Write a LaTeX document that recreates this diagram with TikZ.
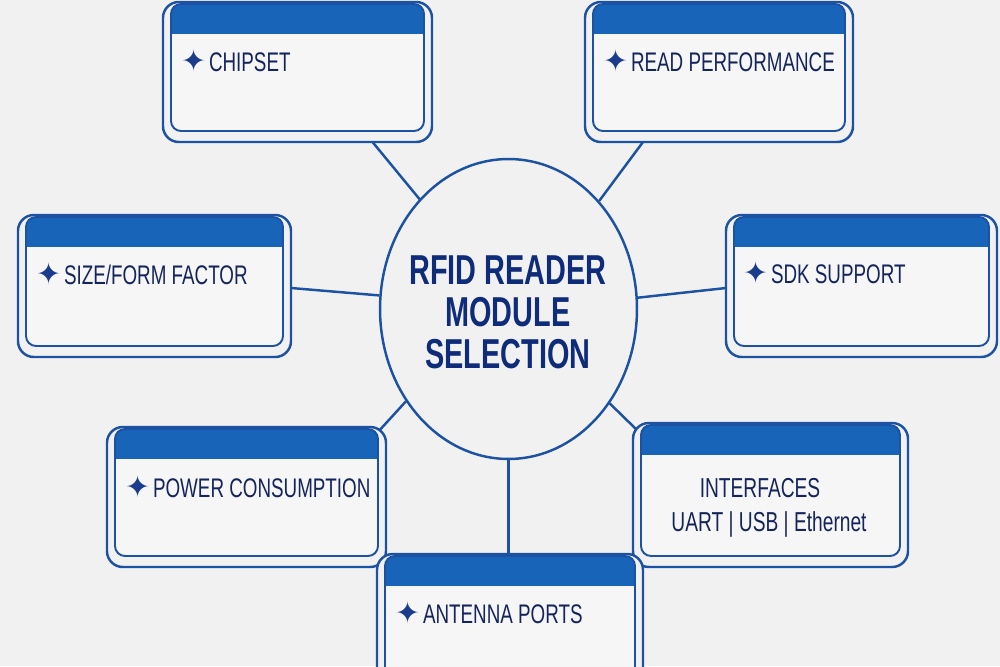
\documentclass[tikz,border=0pt]{standalone}
\usepackage{fontspec}
\setmainfont{Liberation Sans}[FakeStretch=0.70]
\newfontfamily\titlefont{Liberation Sans}[FakeStretch=0.69]
\newfontfamily\symfont{DejaVu Sans}
\usetikzlibrary{fit,calc,shapes.geometric}
\definecolor{bgc}{HTML}{F1F1F1}
\definecolor{innerc}{HTML}{F6F6F6}
\definecolor{linec}{HTML}{1D52A3}
\definecolor{headc}{HTML}{1764B8}
\definecolor{textc}{HTML}{16245C}
\definecolor{titlec}{HTML}{0F2C7A}
\definecolor{starc}{HTML}{1B3C8C}
\pgfdeclarelayer{back}
\pgfdeclarelayer{bg}
\pgfsetlayers{back,bg,main}
\tikzset{
  outerbox/.style={draw=linec, line width=1.4pt, fill=bgc, rounded corners=9pt, inner sep=0pt, outer sep=0pt},
  innerline/.style={draw=linec, line width=1.1pt, rounded corners=5.7pt},
  connector/.style={draw=linec, line width=1.4pt},
  hub/.style={ellipse, draw=linec, line width=1.4pt, fill=bgc, minimum width=5.14cm, minimum height=6cm, inner sep=0pt},
  titletext/.style={text=titlec, align=center, font=\titlefont\bfseries\fontsize{23.8}{23.9}\selectfont},
  cardtext/.style={text=textc, anchor=base west, inner sep=0pt, font=\fontsize{15.3}{18}\selectfont},
  plaintext/.style={text=textc, anchor=base, inner sep=0pt, font=\fontsize{15.6}{18}\selectfont},
}
\newcommand\cardbox[5]{%
  \node[outerbox, fit={(#2,#3) (#4,#5)}] (#1) {};
  \fill[innerc, rounded corners=5.7pt] (#2+8,#3+2) rectangle (#4-8,#5-11);
  \begin{scope}
    \clip[rounded corners=5.7pt] (#2+8,#3+2) rectangle (#4-8,#5-11);
    \fill[headc] (#2+8,#3+2) rectangle (#4-8,#3+32);
  \end{scope}
  \draw[innerline] (#2+8,#3+2) rectangle (#4-8,#5-11);
}
\newcommand\starmark{\raisebox{-0.5pt}{\color{starc}\symfont\fontsize{17}{17}\selectfont ✦}\hspace{1.5pt}}
\begin{document}
\begin{tikzpicture}[x=0.02cm,y=-0.02cm]
\useasboundingbox (0,0) rectangle (1000,666);
\clip (0,0) rectangle (1000,666);
\begin{pgfonlayer}{back}
\fill[bgc] (0,0) rectangle (1000,666);
\end{pgfonlayer}

% hub
\node[hub] (hub) at (508.5,309) {};
\node[titletext] (title) at (508,312) {RFID READER\\MODULE\\SELECTION};

% cards
\cardbox{chip}{163}{2}{432}{142}
\cardbox{read}{585}{2}{853}{142}
\cardbox{size}{18}{215}{291}{357}
\cardbox{sdk}{726}{215}{997}{357}
\cardbox{power}{107}{427}{386}{567}
\cardbox{intf}{633}{423}{908}{567}
\cardbox{ant}{377}{554}{643}{710}

% texts
\node[cardtext] (chip-t) at (181,71) {\starmark CHIPSET};
\node[cardtext] (read-t) at (603,71) {\starmark READ PERFORMANCE};
\node[cardtext] (size-t) at (36,284) {\starmark SIZE/FORM FACTOR};
\node[cardtext] (sdk-t) at (743,283) {\starmark SDK SUPPORT};
\node[cardtext] (power-t) at (125,497) {\starmark POWER CONSUMPTION};
\node[plaintext] (intf-t1) at (760,497) {INTERFACES};
\node[plaintext] (intf-t2) at (769,531) {UART | USB | Ethernet};
\node[cardtext] (ant-t) at (395,623) {\starmark ANTENNA PORTS};

% connectors
\begin{pgfonlayer}{bg}
\draw[connector] ($(chip.south)+(75,0)$) -- (hub.129.4);
\draw[connector] ($(read.south)+(-76,0)$) -- (hub.50.9);
\draw[connector] ($(size.east)+(0,2)$) -- (hub.174.6);
\draw[connector] ($(sdk.west)+(0,2)$) -- (hub.5.4);
\draw[connector] ($(power.north east)+(-9,6)$) -- (hub.222.2);
\draw[connector] ($(intf.north west)+(7,10)$) -- (hub.317.8);
\draw[connector] (hub.south) -- (hub.south |- ant.north);
\end{pgfonlayer}
\end{tikzpicture}
\end{document}
